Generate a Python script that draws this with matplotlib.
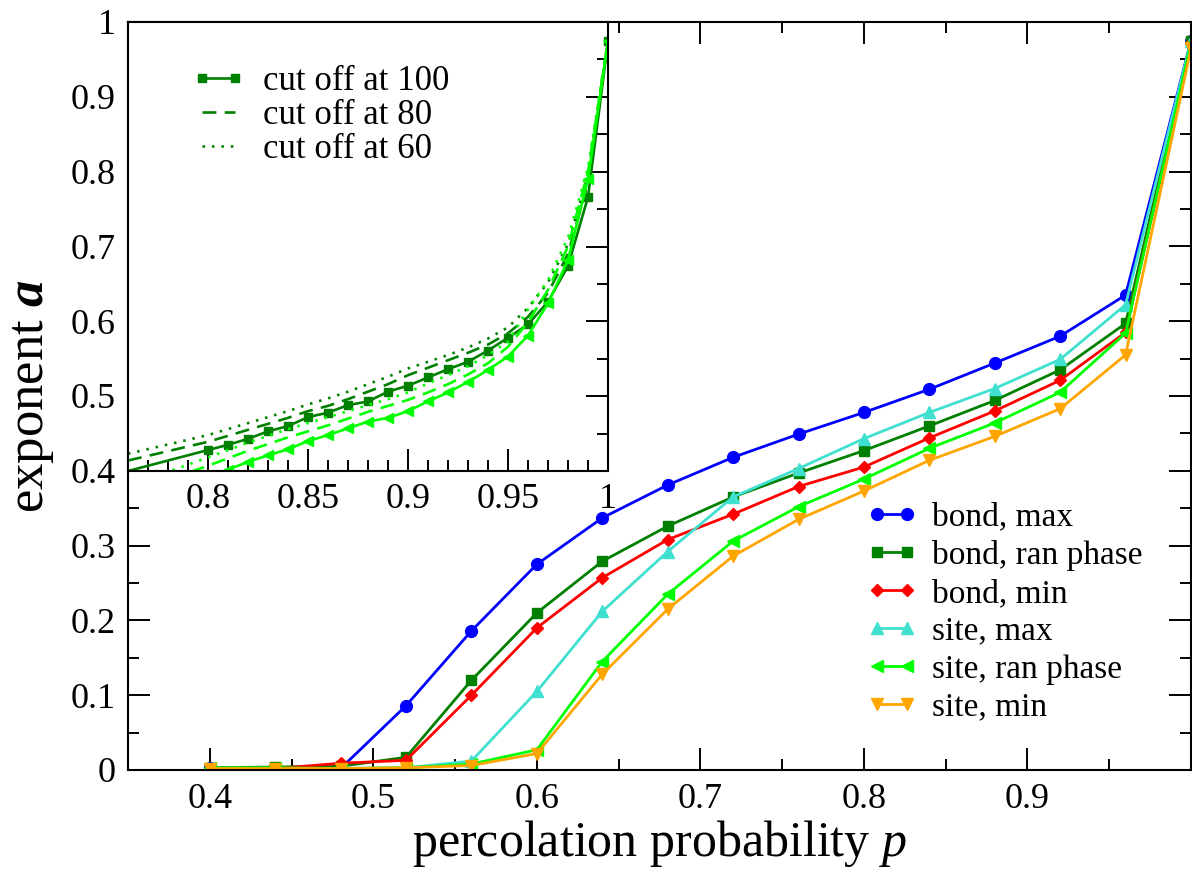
import matplotlib
matplotlib.use("Agg")
import matplotlib.pyplot as plt
from matplotlib.ticker import FixedLocator

plt.rcParams['font.family'] = ['Liberation Serif', 'DejaVu Serif']
plt.rcParams['mathtext.fontset'] = 'custom'
plt.rcParams['mathtext.rm'] = 'Liberation Serif'
plt.rcParams['mathtext.it'] = 'Liberation Serif:italic'
plt.rcParams['mathtext.bf'] = 'Liberation Serif:bold'
plt.rcParams['mathtext.bfit'] = 'Liberation Serif:bold:italic'
plt.rcParams['lines.scale_dashes'] = False

# main panel data
p = [0.40, 0.44, 0.48, 0.52, 0.56, 0.60, 0.64, 0.68, 0.72, 0.76, 0.80, 0.84, 0.88, 0.92, 0.96, 1.00]
bond_max = [0.003, 0.002, 0.002, 0.086, 0.186, 0.275, 0.337, 0.381, 0.418, 0.449, 0.478, 0.509, 0.544, 0.580, 0.635, 0.975]
bond_ran = [0.003, 0.004, 0.005, 0.017, 0.120, 0.210, 0.279, 0.326, 0.365, 0.397, 0.427, 0.460, 0.494, 0.535, 0.597, 0.975]
bond_min = [0.002, 0.002, 0.009, 0.013, 0.100, 0.190, 0.257, 0.308, 0.342, 0.379, 0.405, 0.444, 0.480, 0.521, 0.585, 0.972]
site_max = [0.002, 0.002, 0.002, 0.003, 0.012, 0.105, 0.212, 0.292, 0.365, 0.403, 0.443, 0.478, 0.510, 0.549, 0.622, 0.975]
site_ran = [0.003, 0.003, 0.002, 0.003, 0.008, 0.027, 0.145, 0.235, 0.306, 0.352, 0.389, 0.430, 0.464, 0.505, 0.584, 0.972]
site_min = [0.002, 0.002, 0.002, 0.003, 0.006, 0.022, 0.128, 0.215, 0.286, 0.335, 0.373, 0.414, 0.446, 0.483, 0.555, 0.965]

x_ticks = [0.4, 0.5, 0.6, 0.7, 0.8, 0.9]
x_minor = [0.45, 0.55, 0.65, 0.75, 0.85, 0.95]
x_labels = ['0.4', '0.5', '0.6', '0.7', '0.8', '0.9']
y_ticks = [0, 0.1, 0.2, 0.3, 0.4, 0.5, 0.6, 0.7, 0.8, 0.9, 1.0]
y_minor = [0.05, 0.15, 0.25, 0.35, 0.45, 0.55, 0.65, 0.75, 0.85, 0.95]
y_labels = ['0', '0.1', '0.2', '0.3', '0.4', '0.5', '0.6', '0.7', '0.8', '0.9', '1']

# inset data (ran phase, different cut offs)
p_fine = [0.76, 0.80, 0.81, 0.82, 0.83, 0.84, 0.85, 0.86, 0.87, 0.88, 0.89, 0.90,
          0.91, 0.92, 0.93, 0.94, 0.95, 0.96, 0.97, 0.98, 0.99, 1.00]
bond_cut100 = [0.400, 0.428, 0.435, 0.443, 0.453, 0.460, 0.472, 0.478, 0.488, 0.493, 0.506, 0.514,
               0.525, 0.536, 0.546, 0.561, 0.578, 0.596, 0.626, 0.674, 0.766, 0.974]
bond_cut80 = [0.414, 0.439, 0.447, 0.455, 0.463, 0.471, 0.480, 0.487, 0.496, 0.506, 0.516, 0.528,
              0.538, 0.548, 0.558, 0.569, 0.584, 0.606, 0.638, 0.690, 0.785, 0.975]
bond_cut60 = [0.423, 0.448, 0.456, 0.464, 0.472, 0.480, 0.489, 0.497, 0.506, 0.516, 0.526, 0.537,
              0.546, 0.555, 0.565, 0.577, 0.592, 0.618, 0.652, 0.703, 0.795, 0.976]
site_cut100 = [0.352, 0.390, 0.402, 0.412, 0.421, 0.429, 0.440, 0.448, 0.457, 0.466, 0.471, 0.480,
               0.493, 0.505, 0.519, 0.535, 0.553, 0.581, 0.624, 0.682, 0.790, 0.974]
site_cut80 = [0.370, 0.407, 0.417, 0.427, 0.436, 0.445, 0.453, 0.461, 0.470, 0.479, 0.487, 0.495,
              0.505, 0.516, 0.529, 0.544, 0.566, 0.599, 0.642, 0.700, 0.800, 0.975]
site_cut60 = [0.380, 0.418, 0.428, 0.438, 0.447, 0.456, 0.464, 0.472, 0.480, 0.488, 0.496, 0.505,
              0.517, 0.528, 0.540, 0.555, 0.573, 0.616, 0.655, 0.712, 0.805, 0.976]

ins_x_ticks = [0.8, 0.85, 0.9, 0.95, 1.0]
ins_x_minor = [0.77, 0.78, 0.79, 0.81, 0.82, 0.83, 0.84, 0.86, 0.87, 0.88, 0.89,
               0.91, 0.92, 0.93, 0.94, 0.96, 0.97, 0.98, 0.99]
ins_x_labels = ['0.8', '0.85', '0.9', '0.95', '1']
ins_y_ticks = [0.4, 0.5, 0.6, 0.7, 0.8, 0.9, 1.0]
ins_y_minor = [0.45, 0.55, 0.65, 0.75, 0.85, 0.95]

DKGREEN = '#008000'
LIME = '#00ff00'

fig = plt.figure(figsize=(11.92, 8.69), dpi=100)
ax = fig.add_axes([128 / 1192, 1 - 770 / 869, 1063 / 1192, 748 / 869])

lw = 2.0
ax.plot(p, bond_max, '-o', color='#0000ff', lw=lw, ms=8.5, label='bond, max')
ax.plot(p, bond_ran, '-s', color=DKGREEN, lw=lw, ms=7, label='bond, ran phase')
ax.plot(p, bond_min, '-D', color='#ff0000', lw=lw, ms=6.5, label='bond, min')
ax.plot(p, site_max, '-^', color='#40e0d0', lw=lw, ms=9, label='site, max')
ax.plot(p, site_ran, '-<', color=LIME, lw=lw, ms=9, label='site, ran phase')
ax.plot(p, site_min, '-v', color='#ffa500', lw=lw, ms=9, label='site, min')

ax.set_xlim(0.35, 1.0)
ax.set_ylim(0, 1)
ax.xaxis.set_major_locator(FixedLocator(x_ticks))
ax.xaxis.set_minor_locator(FixedLocator(x_minor))
ax.yaxis.set_major_locator(FixedLocator(y_ticks))
ax.yaxis.set_minor_locator(FixedLocator(y_minor))
ax.set_xticklabels(x_labels)
ax.set_yticklabels(y_labels)
ax.tick_params(which='both', direction='in', top=True, right=True, width=1.4, labelsize=26)
ax.tick_params(which='major', length=15.5, pad=9)
ax.tick_params(which='minor', length=8)
for s in ax.spines.values():
    s.set_linewidth(1.5)

ax.set_xlabel(r'percolation probability $p$', fontsize=36, labelpad=2)
ax.set_ylabel(r'exponent $\mathbfit{a}$', fontsize=38, labelpad=10)

ax.legend(loc='upper left', bbox_to_anchor=(0.695, 0.358), frameon=False, fontsize=24,
          numpoints=2, handlelength=1.5, handletextpad=0.45, labelspacing=0.22,
          borderpad=0, borderaxespad=0)

# inset
ins = fig.add_axes([128 / 1192, 1 - 471 / 869, 480 / 1192, 449 / 869])
ilw = 1.9
ins.plot(p_fine, bond_cut100, '-s', color=DKGREEN, lw=ilw, ms=5.5, markevery=slice(1, None),
         label='cut off at 100')
ins.plot(p_fine, bond_cut80, color=DKGREEN, lw=ilw, dashes=(10, 6), label='cut off at 80')
ins.plot(p_fine, bond_cut60, color=DKGREEN, lw=ilw, dashes=(1.8, 5), label='cut off at 60')
ins.plot(p_fine, site_cut100, '-<', color=LIME, lw=ilw, ms=6.5, markevery=slice(1, None))
ins.plot(p_fine, site_cut80, color=LIME, lw=ilw, dashes=(10, 6))
ins.plot(p_fine, site_cut60, color=LIME, lw=ilw, dashes=(1.8, 5))

ins.set_xlim(0.76, 1.0)
ins.set_ylim(0.4, 1.0)
ins.xaxis.set_major_locator(FixedLocator(ins_x_ticks))
ins.xaxis.set_minor_locator(FixedLocator(ins_x_minor))
ins.set_xticklabels(ins_x_labels)
ins.yaxis.set_major_locator(FixedLocator(ins_y_ticks))
ins.yaxis.set_minor_locator(FixedLocator(ins_y_minor))
ins.tick_params(which='both', direction='in', top=False, left=False, right=True,
                labelleft=False, width=1.4, labelsize=26)
ins.tick_params(which='major', length=15.5, pad=9)
ins.tick_params(which='minor', length=8)
for s in ins.spines.values():
    s.set_linewidth(1.5)

ins.legend(loc='upper left', bbox_to_anchor=(0.133, 0.905), frameon=False, fontsize=25,
           numpoints=2, handlelength=1.55, handletextpad=0.5, labelspacing=0.04,
           borderpad=0, borderaxespad=0)

fig.savefig('out.png', dpi=100)
